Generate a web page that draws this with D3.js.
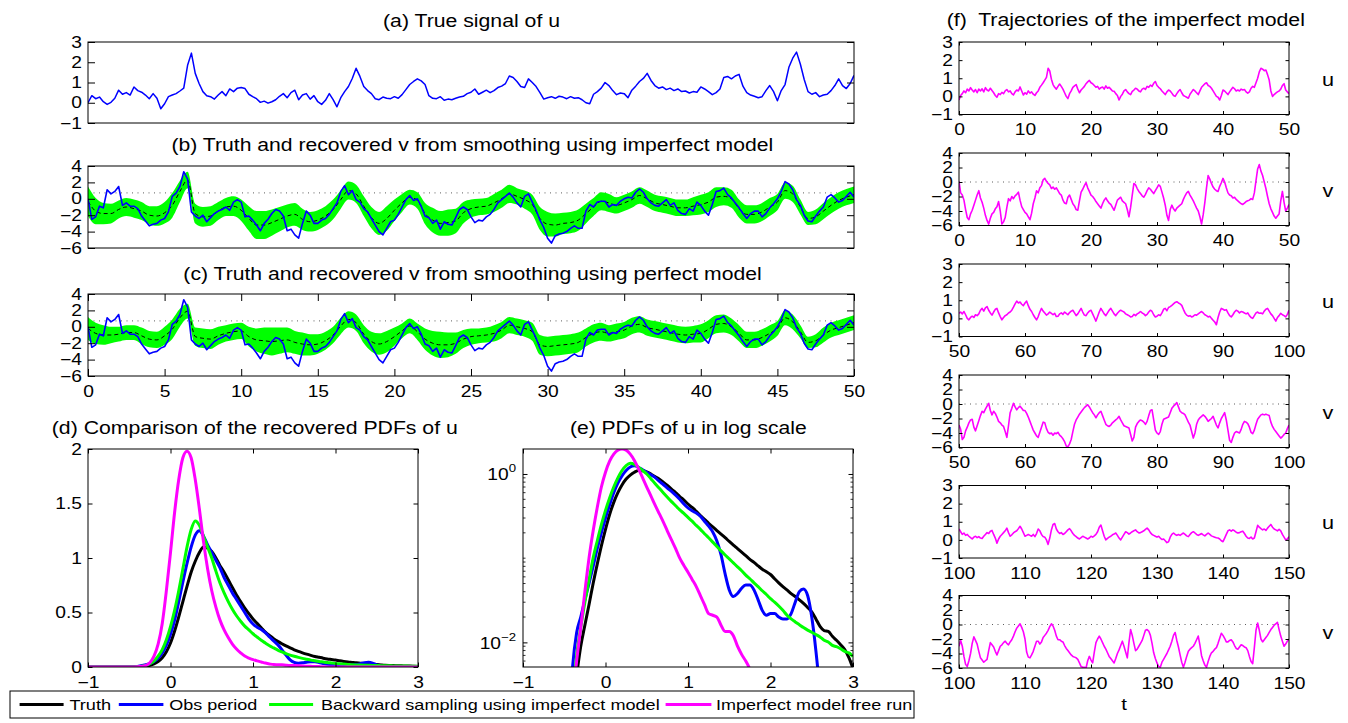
<!DOCTYPE html>
<html>
<head>
<meta charset="utf-8">
<script src="https://cdn.jsdelivr.net/npm/d3@7"></script>
<style>
  body { margin: 0; background: #fff; }
  svg text { font-family: "Liberation Sans", Arial, Helvetica, sans-serif; fill: #000; }
</style>
</head>
<body>
<svg id="fig" width="1348" height="723"></svg>
<script>
// ---------------- data ----------------
// (a) true signal u(t), t = 0..50, dt = 0.25
const uTruth = [
  0.0,0.35,0.2,0.28,0.05,-0.08,0.02,0.22,0.62,0.42,0.5,0.38,0.78,0.6,0.52,0.38,0.2,0.45,0.22,-0.3,
  -0.05,0.3,0.38,0.45,0.58,0.72,1.85,2.45,1.45,0.95,0.55,0.35,0.3,0.18,0.38,0.55,0.35,0.68,0.55,0.72,
  0.75,0.7,0.42,0.3,0.2,0.02,0.08,-0.02,0.05,0.15,0.32,0.45,0.25,0.5,0.62,0.15,0.38,0.45,0.18,0.35,
  0.05,-0.08,0.12,0.45,0.15,-0.2,0.25,0.55,0.8,1.2,1.7,1.3,0.8,0.6,0.45,0.2,0.15,0.28,0.22,0.2,
  0.3,0.22,0.4,0.65,0.9,1.05,1.18,1.08,0.9,0.35,0.22,0.2,0.3,0.12,0.18,0.15,0.22,0.28,0.32,0.45,
  0.52,0.68,0.42,0.52,0.62,0.5,0.6,0.75,0.82,0.95,1.32,1.25,1.05,0.8,0.75,1.18,1.0,0.8,0.5,0.18,
  0.25,0.3,0.22,0.32,0.28,0.2,0.3,0.22,0.25,0.15,0.0,-0.05,0.42,0.55,0.72,1.0,0.85,0.6,0.4,0.48,
  0.45,0.25,0.62,0.82,1.05,1.2,1.45,1.1,0.85,0.72,0.78,0.65,0.72,0.6,0.68,0.55,0.58,0.48,0.55,0.52,
  0.78,0.68,0.55,0.4,0.5,0.68,1.25,1.3,1.18,1.32,1.4,0.82,0.5,0.38,0.32,0.25,0.3,0.6,0.85,0.55,
  0.1,0.6,0.9,1.75,2.2,2.5,1.9,1.15,0.55,0.42,0.5,0.3,0.38,0.42,0.6,0.85,1.18,0.85,0.7,0.95,
  1.35
];
const uTruthStep = 0.25;

// true v(t), t = 0..50, dt = 0.25
const vTruth = [
  0.0,-2.5,-2.2,-0.9,-1.1,1.1,0.6,0.9,1.5,-0.8,-0.5,-0.9,-0.9,-1.2,-2.1,-2.7,-3.3,-3.1,-3.0,-2.6,
  -2.4,-1.6,0.3,0.7,1.5,3.3,2.4,-1.6,-2.1,-2.4,-2.0,-2.8,-2.3,-1.8,-1.5,-1.3,-1.0,-1.4,-0.4,-0.1,
  -0.4,-2.2,-2.1,-2.6,-3.2,-3.9,-3.0,-2.5,-1.8,-1.3,-1.5,-2.1,-3.9,-3.7,-4.4,-4.8,-3.0,-1.5,-2.0,-3.0,
  -3.0,-2.6,-2.4,-1.9,-1.2,-0.5,0.9,1.6,0.5,1.0,-0.1,-0.4,-1.2,-1.6,-2.4,-3.2,-4.0,-4.4,-3.6,-2.8,
  -2.6,-1.9,-1.0,-0.1,0.4,-0.2,0.0,-0.9,-2.1,-2.3,-3.0,-2.6,-3.7,-2.8,-3.1,-3.2,-2.3,-1.3,-1.0,-1.3,
  -2.2,-2.9,-2.6,-2.7,-2.2,-1.9,-1.3,-0.5,-0.1,0.3,0.7,0.2,-0.5,-1.0,0.3,0.6,-0.4,-1.4,-2.6,-3.5,
  -4.8,-5.4,-4.5,-4.3,-4.2,-4.0,-3.6,-3.3,-3.6,-3.6,-1.5,-0.7,-1.0,-0.4,-0.3,-0.3,-1.0,-0.7,-0.8,-0.3,
  0.0,0.2,0.1,0.8,1.2,0.8,0.0,-0.5,-0.8,-0.9,-0.5,-0.1,-0.8,-0.5,-1.4,-1.8,-1.9,-1.2,-1.5,-0.4,
  -0.8,-1.5,-2.0,-0.7,0.9,1.0,1.3,0.5,0.1,-0.5,-1.1,-1.8,-2.4,-1.8,-1.5,-1.5,-2.2,-1.8,-1.1,-0.6,
  0.0,0.9,2.1,1.8,1.1,-0.1,-0.8,-2.0,-2.7,-2.8,-2.1,-1.5,-1.0,0.2,0.5,0.1,-0.4,-0.2,0.3,0.8,
  0.2
];
const vTruthStep = 0.25;

// (b) smoother using the imperfect model: posterior mean and half-spread, t = 0..50, dt = 0.5
const meanImperfect = [
  -0.3,-1.5,-1.8,-1.8,-1.3,-1.0,-1.2,-1.5,-2.0,-2.1,
  -1.7,-0.8,0.9,2.3,-1.8,-2.2,-2.1,-1.5,-1.0,-0.9,
  -1.4,-2.4,-3.2,-3.2,-2.9,-2.5,-2.1,-1.9,-2.5,-2.8,
  -2.6,-2.1,-1.3,-0.1,1.0,0.6,-0.9,-2.3,-3.0,-2.4,
  -1.4,-0.5,0.2,-0.2,-1.8,-2.6,-3.0,-2.9,-2.7,-1.7,
  -1.2,-1.0,-0.9,-0.5,0.0,0.6,0.3,-0.1,-0.7,-2.4,
  -3.1,-3.2,-3.0,-2.9,-2.6,-1.8,-1.0,-0.3,-0.5,-0.8,
  -0.5,-0.1,0.4,0.0,-0.5,-0.7,-0.9,-1.1,-1.1,-0.9,
  -0.7,-0.4,0.2,0.3,0.0,-1.2,-1.9,-1.9,-1.6,-1.0,
  -0.4,1.0,0.6,-1.0,-2.4,-2.2,-1.5,-0.8,-0.2,0.2,
  0.5
];
const spreadImperfect = [
  1.8,1.6,1.3,1.2,1.1,1.1,1.1,1.1,1.1,1.2,
  1.3,1.5,1.3,1.0,1.2,1.2,1.2,1.1,1.1,1.2,
  1.3,1.5,1.7,1.7,1.6,1.5,1.4,1.4,1.3,1.2,
  1.2,1.2,1.2,1.1,1.1,1.1,1.2,1.3,1.4,1.5,
  1.3,1.1,0.9,1.0,1.3,1.5,1.5,1.6,1.5,1.3,
  1.1,1.0,1.0,1.1,1.1,1.1,1.0,1.1,1.2,1.4,
  1.5,1.4,1.3,1.3,1.3,1.2,1.1,1.1,1.1,1.0,
  1.0,1.0,1.0,1.0,1.0,1.0,1.0,1.0,1.0,1.1,
  1.2,1.2,1.2,1.1,1.1,1.1,1.1,1.1,1.1,1.1,
  1.0,1.0,1.0,0.9,0.8,0.9,1.0,1.0,1.0,1.0,
  1.0
];
// (c) smoother using the perfect model
const meanPerfect = [
  -0.2,-0.8,-1.0,-1.0,-0.9,-0.7,-0.7,-1.1,-1.5,-1.6,
  -1.1,-0.3,1.1,1.9,-1.2,-1.4,-1.5,-1.1,-0.8,-0.6,
  -0.5,-1.2,-1.6,-1.7,-1.8,-1.7,-1.6,-1.9,-2.1,-2.2,
  -2.1,-1.7,-1.0,0.1,0.9,0.5,-0.9,-1.8,-2.1,-1.8,
  -1.2,-0.5,0.1,-0.6,-1.5,-2.0,-2.2,-2.2,-2.0,-1.5,
  -1.2,-1.1,-1.0,-0.8,-0.4,0.2,0.0,-0.2,-0.6,-2.2,
  -2.4,-2.3,-2.2,-2.1,-1.9,-1.3,-0.8,-0.6,-0.8,-0.6,
  -0.4,0.1,0.3,-0.1,-0.3,-0.5,-0.7,-0.9,-1.0,-0.9,
  -0.8,-0.3,0.3,0.4,0.0,-0.8,-1.6,-1.6,-1.3,-0.8,
  -0.2,1.1,0.6,-0.6,-1.9,-1.7,-1.0,-0.4,-0.1,0.2,
  0.5
];
const spreadPerfect = [
  1.4,1.3,1.2,1.0,0.9,0.9,0.9,1.0,1.0,1.0,
  1.1,1.2,1.1,0.9,1.1,1.2,1.2,1.1,1.0,1.0,
  1.0,1.2,1.4,1.6,1.7,1.6,1.5,1.4,1.4,1.3,
  1.2,1.1,1.0,1.0,1.0,1.0,1.1,1.2,1.3,1.3,
  1.1,0.9,0.9,1.0,1.3,1.5,1.6,1.5,1.3,1.1,
  1.0,0.9,0.9,1.0,1.0,1.0,1.0,1.0,1.1,1.2,
  1.2,1.2,1.2,1.2,1.2,1.1,1.1,1.1,1.0,1.0,
  1.0,1.0,1.0,1.0,1.0,1.0,1.0,1.0,1.0,1.0,
  1.1,1.1,1.1,1.1,1.0,1.0,1.0,1.0,1.0,1.0,
  0.9,0.9,0.9,0.8,0.7,0.8,0.9,0.9,0.9,0.9,
  0.9
];
const smootherStep = 0.5;
const vReferenceLevel = 0.72;

// (d),(e) PDFs of u on the grid u = -1..3, du = 0.05
const pdfGridStart = -1, pdfGridStep = 0.05;
const pdfTruth = [
  0,0,0,0,0,0,0,0,0,0,0.0001,
  0.0004,0.0015,0.004,0.009,0.016,0.028,0.05,0.085,0.14,0.22,
  0.33,0.46,0.6,0.74,0.87,0.97,1.05,1.1,1.09,1.06,
  1.0,0.93,0.87,0.8,0.73,0.66,0.6,0.54,0.49,0.44,
  0.4,0.36,0.32,0.29,0.26,0.235,0.213,0.193,0.175,0.158,
  0.143,0.13,0.118,0.107,0.097,0.089,0.081,0.074,0.069,0.064,
  0.057,0.051,0.046,0.042,0.038,0.035,0.032,0.029,0.026,0.023,
  0.019,0.0155,0.0138,0.0135,0.0118,0.0106,0.0094,0.0082,0.0066,0.0049
];
const pdfObs = [
  0,0,0,0,0,0,0,0,0,0,0.00005,
  0.0008,0.005,0.013,0.02,0.032,0.05,0.08,0.13,0.2,0.3,
  0.43,0.6,0.78,0.95,1.1,1.21,1.25,1.2,1.12,1.05,
  0.98,0.91,0.82,0.75,0.68,0.62,0.56,0.5,0.44,0.395,
  0.365,0.345,0.315,0.275,0.24,0.205,0.16,0.11,0.065,0.042,
  0.035,0.038,0.044,0.048,0.048,0.042,0.032,0.024,0.021,0.022,
  0.022,0.02,0.019,0.019,0.022,0.03,0.04,0.043,0.036,0.02,
  0.008,0.0025,0.0006,0.0001,0,0,0,0,0,0
];
const pdfBackward = [
  0,0,0,0,0,0,0,0,0,0,0.0001,
  0.0005,0.002,0.007,0.015,0.03,0.055,0.1,0.16,0.25,0.37,
  0.52,0.7,0.9,1.1,1.26,1.34,1.3,1.2,1.1,1.0,
  0.88,0.77,0.68,0.6,0.53,0.47,0.42,0.375,0.34,0.305,
  0.275,0.245,0.22,0.195,0.175,0.155,0.138,0.122,0.109,0.098,
  0.088,0.079,0.071,0.063,0.057,0.051,0.046,0.041,0.037,0.033,
  0.03,0.027,0.024,0.021,0.019,0.0175,0.0162,0.015,0.014,0.0132,
  0.0124,0.0116,0.0106,0.0101,0.0092,0.0089,0.0084,0.0078,0.0075,0.0068
];
const pdfFreeRun = [
  0,0,0,0,0,0,0,0,0,0,0.0001,
  0.0005,0.002,0.006,0.015,0.04,0.1,0.21,0.4,0.7,1.05,
  1.42,1.72,1.92,1.98,1.92,1.72,1.45,1.15,0.9,0.7,
  0.55,0.43,0.34,0.27,0.21,0.165,0.13,0.1,0.082,0.068,
  0.056,0.046,0.036,0.028,0.022,0.021,0.02,0.016,0.0135,0.0135,
  0.012,0.009,0.0072,0.006,0.0048,0.0035,0.002,0.001,0.0005,0.0002,
  0,0,0,0,0,0,0,0,0,0,
  0,0,0,0,0,0,0,0,0,0
];

// (f) free-run trajectories of the imperfect model, dt = 0.25
const fStep = 0.25;
const fu1 = [
  -0.2,0.05,0.15,0.3,0.2,0.4,0.3,0.48,0.35,0.25,0.38,0.2,0.4,0.3,0.42,0.25,0.48,0.35,0.3,0.45,
  0.32,0.2,0.05,-0.05,0.15,0.1,0.22,0.15,0.3,0.38,0.25,0.3,0.15,0.08,0.25,0.35,0.3,0.52,0.3,0.08,
  0.2,0.12,0.3,0.18,0.25,0.12,0.05,0.2,0.3,0.5,0.62,0.75,0.9,1.05,1.55,1.4,0.95,0.65,0.5,0.4,
  0.55,0.68,0.55,0.4,0.2,0.0,-0.12,0.15,0.3,0.5,0.58,0.65,0.4,0.2,0.35,0.45,0.55,0.7,0.8,0.88,
  0.75,0.7,0.6,0.5,0.55,0.4,0.48,0.52,0.4,0.58,0.45,0.5,0.4,0.3,0.28,0.15,0.05,-0.2,0.0,0.12,
  0.3,0.38,0.25,0.15,0.1,0.28,0.35,0.45,0.4,0.3,0.25,0.4,0.45,0.38,0.55,0.5,0.62,0.55,0.72,0.82,
  0.6,0.5,0.42,0.3,0.2,0.1,0.25,0.35,0.3,0.18,0.05,0.0,0.15,0.28,0.38,0.2,0.05,0.0,-0.05,-0.1,
  0.12,0.25,0.38,0.3,0.2,0.1,0.3,0.5,0.6,0.7,0.75,0.6,0.55,0.45,0.3,0.15,0.0,-0.05,-0.2,0.05,
  0.35,0.3,0.2,0.1,0.25,0.38,0.5,0.42,0.3,0.35,0.3,0.4,0.35,0.38,0.25,0.18,0.25,0.45,0.55,0.5,
  0.75,1.0,1.35,1.55,1.5,1.42,1.45,1.2,0.9,0.3,0.0,0.1,0.18,0.25,0.3,0.4,0.6,0.7,0.35,0.25,
  0.15
];
const fv1 = [
  0.1,-1.5,-1.8,-2.5,-3.8,-4.9,-5.2,-4.4,-3.9,-3.2,-2.5,-1.8,-1.2,-2.2,-2.8,-3.6,-4.6,-5.3,-5.8,-5.0,
  -4.4,-4.2,-3.7,-3.4,-2.7,-4.0,-5.8,-5.5,-4.9,-3.5,-2.3,-2.6,-2.0,-2.3,-1.9,-1.7,-1.4,-2.5,-3.4,-3.8,
  -4.2,-4.4,-4.8,-5.2,-4.3,-3.0,-2.2,-1.2,-1.5,-0.8,-0.5,0.3,0.5,0.1,-0.2,-0.4,-0.9,-0.7,-1.0,-0.8,
  -1.2,-1.6,-1.8,-2.5,-2.9,-3.0,-2.1,-1.8,-2.4,-3.0,-3.3,-3.8,-3.9,-2.6,-1.4,-1.0,-0.5,-0.1,-0.8,-1.3,
  -1.8,-2.0,-2.3,-2.7,-3.0,-3.3,-3.6,-3.0,-2.5,-2.2,-2.6,-2.9,-3.1,-3.5,-3.9,-3.2,-2.5,-2.3,-2.1,-2.6,
  -2.8,-3.0,-3.8,-4.8,-3.5,-1.8,-0.2,-0.4,-0.9,-1.3,-1.6,-1.9,-2.1,-1.7,-1.2,-0.8,-1.0,-1.3,-1.6,-1.2,
  -0.8,-0.4,-0.6,-1.4,-2.2,-3.2,-4.6,-5.3,-3.8,-3.2,-3.7,-4.0,-3.6,-3.4,-3.2,-3.0,-2.4,-1.9,-1.5,-1.3,
  -1.8,-2.2,-2.6,-3.1,-3.6,-4.0,-4.8,-5.8,-4.5,-2.8,-0.8,0.9,0.4,-0.2,-0.7,-1.0,-1.2,-1.3,-0.6,-0.1,
  0.5,0.0,-0.8,-1.5,-1.8,-1.9,-2.2,-2.1,-2.4,-2.6,-2.8,-3.0,-3.1,-2.9,-2.7,-2.6,-2.5,-2.3,-2.4,-1.5,
  0.2,1.8,2.4,1.5,0.9,0.0,-0.9,-2.0,-3.0,-3.7,-4.2,-4.7,-5.0,-4.7,-4.4,-2.6,-1.3,-2.8,-4.0,-3.6,
  -3.1
];
const fu2 = [
  0.28,0.35,0.25,0.38,0.2,0.0,-0.08,0.05,0.12,0.05,0.2,0.15,0.25,0.45,0.55,0.4,0.58,0.65,0.45,0.3,
  0.18,0.35,0.5,0.55,0.3,0.1,-0.08,0.05,0.15,0.2,0.3,0.35,0.45,0.62,0.8,0.95,0.85,0.9,0.78,0.7,
  0.85,0.95,0.7,0.5,0.38,0.2,0.05,-0.08,0.1,0.35,0.55,0.4,0.3,0.18,0.25,0.35,0.28,0.2,0.28,0.1,
  0.12,0.25,0.3,0.22,0.35,0.28,0.2,0.32,0.4,0.45,0.3,0.15,0.25,0.4,0.55,0.35,0.18,0.15,0.3,0.4,
  0.45,0.25,0.05,-0.15,0.1,0.35,0.55,0.4,0.25,0.15,0.3,0.45,0.55,0.4,0.25,0.15,0.28,0.38,0.45,0.4,
  0.35,0.25,0.2,0.15,0.08,0.1,0.22,0.15,0.25,0.3,0.38,0.3,0.25,0.15,0.22,0.35,0.45,0.38,0.2,0.08,
  0.12,0.2,0.15,0.3,0.5,0.55,0.42,0.6,0.65,0.72,0.8,0.88,0.92,0.85,0.8,0.72,0.5,0.3,0.18,0.12,
  0.15,0.08,0.12,0.2,0.18,0.25,0.32,0.38,0.3,0.2,0.15,0.08,0.12,0.0,-0.1,-0.2,-0.35,0.05,0.35,0.55,
  0.5,0.45,0.48,0.3,0.15,0.08,0.2,0.35,0.45,0.4,0.3,0.38,0.35,0.3,0.25,0.3,0.15,0.05,0.0,0.15,
  0.3,0.35,0.28,0.3,0.25,0.4,0.5,0.55,0.4,0.25,0.15,0.0,-0.15,0.05,0.15,0.28,0.2,0.15,0.08,0.22,
  0.45
];
const fv2 = [
  -2.9,-3.5,-4.9,-4.6,-3.7,-3.2,-2.6,-2.2,-2.1,-3.2,-3.7,-3.0,-2.3,-1.6,-1.0,-1.2,-0.7,-0.3,0.1,-0.9,
  -1.5,-1.0,-1.3,-1.8,-2.4,-2.6,-2.9,-3.1,-3.8,-4.6,-3.0,-1.2,-0.6,0.1,-0.4,-0.8,-0.5,-0.3,-0.6,-0.9,
  -0.9,-1.3,-1.8,-2.4,-3.0,-3.6,-4.0,-4.4,-4.6,-3.9,-3.2,-2.5,-2.6,-3.4,-3.9,-4.1,-4.0,-4.3,-4.0,-4.1,
  -3.9,-4.3,-4.5,-4.8,-5.2,-5.8,-5.9,-5.5,-4.9,-3.8,-2.8,-2.2,-1.8,-1.4,-1.1,-0.8,-0.5,-0.3,-0.1,-0.4,
  -0.8,-1.2,-1.5,-1.9,-1.5,-1.2,-1.0,-1.6,-2.2,-2.8,-3.0,-3.1,-2.9,-2.6,-2.4,-2.2,-2.0,-1.7,-2.2,-2.6,
  -3.0,-3.1,-3.2,-3.3,-4.2,-5.1,-4.6,-3.2,-2.7,-2.4,-2.2,-2.3,-2.5,-2.8,-2.4,-1.6,-0.9,-0.8,-2.2,-3.6,
  -4.0,-4.2,-3.8,-2.8,-2.1,-2.0,-1.9,-1.8,-1.2,-0.6,-0.3,-0.1,0.2,-0.4,-1.0,-1.2,-1.3,-1.5,-2.0,-2.5,
  -2.9,-3.8,-4.7,-4.0,-2.8,-2.2,-1.9,-1.7,-1.5,-1.7,-2.0,-2.4,-2.2,-2.0,-1.7,-2.3,-2.9,-3.3,-2.6,-2.0,
  -1.6,-1.2,-2.2,-3.6,-5.0,-5.3,-4.6,-4.0,-3.8,-3.9,-4.0,-3.5,-2.8,-2.4,-2.5,-2.7,-3.2,-3.9,-4.1,-3.6,
  -2.8,-2.1,-1.8,-1.5,-1.4,-1.5,-1.4,-1.5,-1.6,-2.5,-3.1,-3.5,-3.8,-4.1,-4.4,-4.7,-4.5,-4.2,-4.0,-3.4,
  -2.9
];
const fu3 = [
  0.6,0.45,0.3,0.38,0.25,0.3,0.2,0.12,0.05,0.15,0.2,0.12,0.18,0.1,0.08,0.2,0.3,0.4,0.35,0.48,
  0.52,0.3,0.1,-0.18,0.05,0.2,0.3,0.4,0.5,0.65,0.4,0.2,0.28,0.38,0.45,0.5,0.62,0.75,0.6,0.4,
  0.2,0.25,0.3,0.25,0.2,0.3,0.18,0.35,0.6,0.5,0.3,0.18,0.15,0.0,-0.25,0.1,0.55,0.85,0.9,0.6,
  0.45,0.35,0.4,0.3,0.35,0.45,0.55,0.62,0.5,0.35,0.25,0.18,0.1,0.05,0.12,0.2,0.15,0.1,0.05,0.1,
  0.2,0.15,0.22,0.3,0.45,0.7,0.82,0.5,0.2,0.0,0.08,0.15,0.2,0.28,0.32,0.38,0.25,0.1,0.0,0.15,
  0.3,0.45,0.4,0.32,0.38,0.45,0.5,0.55,0.45,0.38,0.4,0.45,0.5,0.58,0.65,0.55,0.4,0.3,0.25,0.2,
  0.15,0.2,0.1,0.02,0.05,-0.05,-0.15,-0.1,0.15,0.3,0.38,0.3,0.25,0.3,0.25,0.32,0.38,0.3,0.22,0.18,
  0.3,0.4,0.45,0.38,0.3,0.25,0.3,0.35,0.28,0.22,0.3,0.38,0.3,0.22,0.18,0.15,0.12,0.1,0.05,-0.05,
  -0.1,0.1,0.3,0.5,0.55,0.48,0.55,0.5,0.42,0.38,0.4,0.45,0.48,0.35,0.2,0.1,0.08,0.15,0.05,0.1,
  0.45,0.8,0.7,0.62,0.55,0.6,0.52,0.65,0.75,0.85,0.7,0.6,0.55,0.5,0.58,0.5,0.3,0.15,0.0,0.05,
  0.18
];
const fv3 = [
  -3.0,-2.2,-3.0,-4.4,-5.5,-5.8,-5.0,-4.0,-2.6,-1.7,-2.2,-2.7,-3.7,-4.6,-4.9,-5.2,-5.0,-4.8,-3.6,-2.5,
  -2.8,-3.1,-3.7,-4.2,-3.6,-3.0,-2.8,-2.5,-2.3,-2.6,-2.8,-2.4,-2.1,-1.6,-1.0,-0.5,-0.2,0.1,-0.4,-1.0,
  -2.0,-3.8,-4.5,-4.6,-4.2,-3.7,-3.0,-2.3,-2.3,-2.7,-2.4,-1.8,-1.5,-1.2,-0.8,-0.3,0.1,-0.2,-0.8,-1.6,
  -2.1,-2.1,-2.3,-2.4,-2.9,-3.3,-3.6,-3.9,-4.2,-4.4,-4.5,-4.6,-4.8,-5.3,-5.8,-5.9,-5.9,-6.0,-5.0,-4.4,
  -4.9,-5.3,-3.8,-2.5,-2.0,-1.6,-2.0,-2.5,-3.0,-3.4,-3.9,-4.4,-4.7,-5.0,-5.3,-4.7,-4.0,-3.5,-2.9,-2.3,
  -3.0,-3.8,-4.6,-2.5,-0.7,-1.5,-2.6,-3.6,-3.4,-3.0,-2.6,-2.2,-1.5,-0.8,-0.7,-0.9,-1.5,-2.6,-3.9,-4.7,
  -5.3,-5.8,-5.9,-5.2,-4.8,-4.4,-4.0,-3.5,-3.0,-2.3,-1.5,-1.1,-2.2,-3.1,-4.2,-5.2,-5.9,-5.2,-4.4,-3.7,
  -3.4,-3.2,-3.0,-2.6,-2.1,-1.6,-2.8,-4.3,-5.0,-5.6,-5.9,-5.1,-4.4,-3.9,-3.7,-3.4,-3.2,-2.6,-1.9,-1.2,
  -1.5,-1.9,-2.4,-2.4,-2.2,-2.1,-2.4,-2.9,-3.3,-3.4,-3.1,-2.8,-2.9,-3.1,-3.2,-3.6,-4.4,-5.1,-5.4,-3.2,
  -0.8,0.2,-0.8,-2.0,-2.4,-2.1,-1.8,-1.5,-1.1,-0.7,-0.4,-0.1,0.1,0.3,-0.7,-1.6,-2.3,-3.0,-2.7,-2.3,
  -2.0
];

// axis ticks and labels
const tTicksMain = [0,5,10,15,20,25,30,35,40,45,50];
const uTicks = [-1,0,1,2,3];
const vTicks = [-6,-4,-2,0,2,4];
const pdfXTicks = [-1,0,1,2,3];
const pdfYTicks = [0,0.5,1,1.5,2];
const logMajor = [{v:1, exp:"0"}, {v:0.01, exp:"\u22122"}];
const logMinor = [0.006,0.007,0.008,0.009,0.02,0.03,0.04,0.05,0.06,0.07,0.08,0.09,0.1,0.2,0.3,0.4,0.5,0.6,0.7,0.8,0.9];

const legendLabels = ["Truth", "Obs period", "Backward sampling using imperfect model", "Imperfect model free run"];
const legendColors = ["#000000", "#0000ff", "#00ff00", "#ff00ff"];

// ---------------- drawing ----------------
const XSTRETCH = 1.2;          // glyphs are drawn slightly widened
const svg = d3.select("#fig");
const defs = svg.append("defs");
let clipId = 0;

const series = (vals, t0, dt) => vals.map((v, i) => ({ t: t0 + i * dt, v }));
const pdfSeries = vals => vals.map((v, i) => ({ t: pdfGridStart + i * pdfGridStep, v }));

function panel({ left, top, width, height, xDomain, yDomain, log }) {
  const g = svg.append("g").attr("transform", `translate(${left},${top})`);
  const x = d3.scaleLinear().domain(xDomain).range([0, width]);
  const y = (log ? d3.scaleLog() : d3.scaleLinear()).domain(yDomain).range([height, 0]);
  const id = "clip" + (clipId++);
  defs.append("clipPath").attr("id", id).append("rect").attr("width", width).attr("height", height);
  const plot = g.append("g").attr("clip-path", `url(#${id})`);
  return { g, plot, x, y, width, height };
}

function styleAxis(sel) {
  sel.select(".domain").remove();
  sel.attr("font-size", 16).attr("font-family", '"Liberation Sans", Arial, sans-serif');
  sel.selectAll(".tick line").attr("stroke", "#000").attr("stroke-width", 1);
  sel.selectAll(".tick text").attr("fill", "#000");
}

function frame(p, { xTicks, yTicks, tick, yLabels = true, yFormat = d3.format("") }) {
  const { g, x, y, width, height } = p;
  if (yTicks) {
    g.append("g").call(d3.axisLeft(y).tickValues(yTicks).tickSize(-tick).tickPadding(6)
      .tickFormat(yLabels ? yFormat : "")).call(styleAxis);
    g.append("g").attr("transform", `translate(${width},0)`)
      .call(d3.axisRight(y).tickValues(yTicks).tickSize(-tick).tickFormat("")).call(styleAxis);
  }
  if (xTicks) {
    g.append("g").attr("transform", `translate(0,${height})`)
      .call(d3.axisBottom(x).tickValues(xTicks).tickSize(-tick).tickPadding(9.5).tickFormat(d3.format("")))
      .call(styleAxis);
    g.append("g").call(d3.axisTop(x).tickValues(xTicks).tickSize(-tick).tickFormat("")).call(styleAxis);
  }
  g.append("rect").attr("width", width).attr("height", height)
    .attr("fill", "none").attr("stroke", "#000").attr("stroke-width", 1);
}

function lineFor(p, curve) {
  const l = d3.line().x(d => p.x(d.t)).y(d => p.y(d.v));
  return curve ? l.curve(curve) : l;
}

function refLine(p, level) {
  p.plot.append("path")
    .datum([{ t: p.x.domain()[0], v: level }, { t: p.x.domain()[1], v: level }])
    .attr("d", lineFor(p)).attr("fill", "none")
    .attr("stroke", "#333").attr("stroke-width", 0.8).attr("stroke-dasharray", "1,4.5");
}

function title(txt, cx, baseline, width, size = 17.5) {
  svg.append("text").attr("x", cx).attr("y", baseline).attr("text-anchor", "middle")
    .attr("font-size", size).attr("textLength", width).attr("lengthAdjust", "spacingAndGlyphs")
    .style("white-space", "pre").text(txt);
}

// (a) true signal of u
const pa = panel({ left: 88, top: 42, width: 766, height: 81, xDomain: [0, 50], yDomain: [-1, 3] });
pa.plot.append("path").datum(series(uTruth, 0, uTruthStep)).attr("d", lineFor(pa))
  .attr("fill", "none").attr("stroke", "#0000ff").attr("stroke-width", 1.5).attr("stroke-linejoin", "round");
frame(pa, { yTicks: uTicks, tick: 7 });
title("(a) True signal of u", 471.5, 27, 177);

// (b),(c) smoother panels
function smootherPanel(top, means, spreads, withXTicks) {
  const p = panel({ left: 88, top, width: 766, height: 82, xDomain: [0, 50], yDomain: [-6, 4] });
  refLine(p, vReferenceLevel);
  const band = means.map((m, i) => ({ t: i * smootherStep, m, h: spreads[i] }));
  p.plot.append("path").datum(band)
    .attr("d", d3.area().x(d => p.x(d.t)).y0(d => p.y(d.m - d.h)).y1(d => p.y(d.m + d.h)).curve(d3.curveMonotoneX))
    .attr("fill", "#00ff00").attr("stroke", "none");
  p.plot.append("path").datum(series(means, 0, smootherStep)).attr("d", lineFor(p, d3.curveMonotoneX))
    .attr("fill", "none").attr("stroke", "#000").attr("stroke-width", 1).attr("stroke-dasharray", "4,3");
  p.plot.append("path").datum(series(vTruth, 0, vTruthStep)).attr("d", lineFor(p))
    .attr("fill", "none").attr("stroke", "#0000ff").attr("stroke-width", 1.6).attr("stroke-linejoin", "round");
  frame(p, { yTicks: vTicks, tick: 7, xTicks: withXTicks ? tTicksMain : null });
  return p;
}
smootherPanel(166, meanImperfect, spreadImperfect, false);
title("(b) Truth and recovered v from smoothing using imperfect model", 472.3, 151, 601.6);
smootherPanel(294, meanPerfect, spreadPerfect, true);
title("(c) Truth and recovered v from smoothing using perfect model", 472.5, 280, 578.3);

// (d) recovered PDFs, linear scale
const pdfSets = [pdfTruth, pdfObs, pdfBackward, pdfFreeRun];
const pd = panel({ left: 88, top: 449, width: 330, height: 218, xDomain: [-1, 3], yDomain: [0, 2] });
pdfSets.forEach((vals, i) => {
  pd.plot.append("path").datum(pdfSeries(vals)).attr("d", lineFor(pd, d3.curveMonotoneX))
    .attr("fill", "none").attr("stroke", legendColors[i]).attr("stroke-width", 3)
    .attr("stroke-linejoin", "round");
});
frame(pd, { yTicks: pdfYTicks, xTicks: pdfXTicks, tick: 4.5 });
title("(d) Comparison of the recovered PDFs of u", 254.8, 434, 406);

// (e) PDFs, log scale
const pe = panel({ left: 523, top: 449, width: 330, height: 218, xDomain: [-1, 3], yDomain: [0.0051, 1.98], log: true });
pdfSets.forEach((vals, i) => {
  pe.plot.append("path").datum(pdfSeries(vals))
    .attr("d", lineFor(pe, d3.curveMonotoneX).defined(d => d.v > 0))
    .attr("fill", "none").attr("stroke", legendColors[i]).attr("stroke-width", 3)
    .attr("stroke-linejoin", "round");
});
frame(pe, { yTicks: logMajor.map(d => d.v), yLabels: false, xTicks: pdfXTicks, tick: 4.5 });
// minor log ticks
[0, pe.width].forEach(x0 => {
  pe.g.append("g").selectAll("line").data(logMinor).join("line")
    .attr("x1", x0).attr("x2", x0 === 0 ? 2.5 : pe.width - 2.5)
    .attr("y1", d => pe.y(d)).attr("y2", d => pe.y(d)).attr("stroke", "#000").attr("stroke-width", 0.8);
});
logMajor.forEach(d => {
  const lab = pe.g.append("g").attr("transform", `translate(-7,${pe.y(d.v) + 6.5}) scale(${XSTRETCH},1)`)
    .append("text").attr("class", "fixed").attr("text-anchor", "end").attr("font-size", 16);
  lab.append("tspan").text("10");
  lab.append("tspan").attr("font-size", 11).attr("dy", -8).text(d.exp);
});
title("(e) PDFs of u in log scale", 688.3, 434, 236.7);

// legend
const legendLayout = {
  box: [10, 691, 904, 27],
  lineX: [[19.6, 63.6], [118.8, 163.4], [269.1, 313.1], [665.6, 711.4]],
  textX: [69.4, 169.3, 320.9, 716.1],
  textW: [41.7, 88, 338.8, 196.1],
  lineY: 704.5, baseline: 710
};
const lg = svg.append("g");
lg.append("rect").attr("x", legendLayout.box[0]).attr("y", legendLayout.box[1])
  .attr("width", legendLayout.box[2]).attr("height", legendLayout.box[3])
  .attr("fill", "#fff").attr("stroke", "#000").attr("stroke-width", 1);
legendLabels.forEach((lab, i) => {
  lg.append("line").attr("x1", legendLayout.lineX[i][0]).attr("x2", legendLayout.lineX[i][1])
    .attr("y1", legendLayout.lineY).attr("y2", legendLayout.lineY)
    .attr("stroke", legendColors[i]).attr("stroke-width", 3);
  lg.append("text").attr("class", "fixed").attr("x", legendLayout.textX[i]).attr("y", legendLayout.baseline)
    .attr("font-size", 15).attr("textLength", legendLayout.textW[i]).attr("lengthAdjust", "spacingAndGlyphs")
    .text(lab);
});

// (f) trajectories of the imperfect model
const fTops = [42, 153, 264, 375, 485.5, 595.5];
const fSets = [
  { vals: fu1, t0: 0, kind: "u" }, { vals: fv1, t0: 0, kind: "v" },
  { vals: fu2, t0: 50, kind: "u" }, { vals: fv2, t0: 50, kind: "v" },
  { vals: fu3, t0: 100, kind: "u" }, { vals: fv3, t0: 100, kind: "v" }
];
fSets.forEach((s, i) => {
  const isU = s.kind === "u";
  const p = panel({ left: 959, top: fTops[i], width: 330, height: 72.5,
    xDomain: [s.t0, s.t0 + 50], yDomain: isU ? [-1, 3] : [-6, 4] });
  if (!isU) refLine(p, 0);
  p.plot.append("path").datum(series(s.vals, s.t0, fStep)).attr("d", lineFor(p))
    .attr("fill", "none").attr("stroke", "#ff00ff").attr("stroke-width", 1.6).attr("stroke-linejoin", "round");
  frame(p, { yTicks: isU ? uTicks : vTicks, tick: 3.5, xTicks: d3.range(s.t0, s.t0 + 51, 10) });
  svg.append("text").attr("x", 1328).attr("y", fTops[i] + 43.5).attr("text-anchor", "middle")
    .attr("font-size", 18).text(s.kind);
});
svg.append("text").attr("x", 1124).attr("y", 710).attr("text-anchor", "middle").attr("font-size", 17).text("t");
title("(f)  Trajectories of the imperfect model", 1125.8, 26, 358.3);

// widen the remaining labels to the figure's glyph proportions
svg.selectAll("text").each(function () {
  if (this.hasAttribute("textLength") || this.classList.contains("fixed")) return;
  const L = this.getComputedTextLength();
  if (L > 0) d3.select(this).attr("textLength", L * XSTRETCH).attr("lengthAdjust", "spacingAndGlyphs");
});
</script>
</body>
</html>
